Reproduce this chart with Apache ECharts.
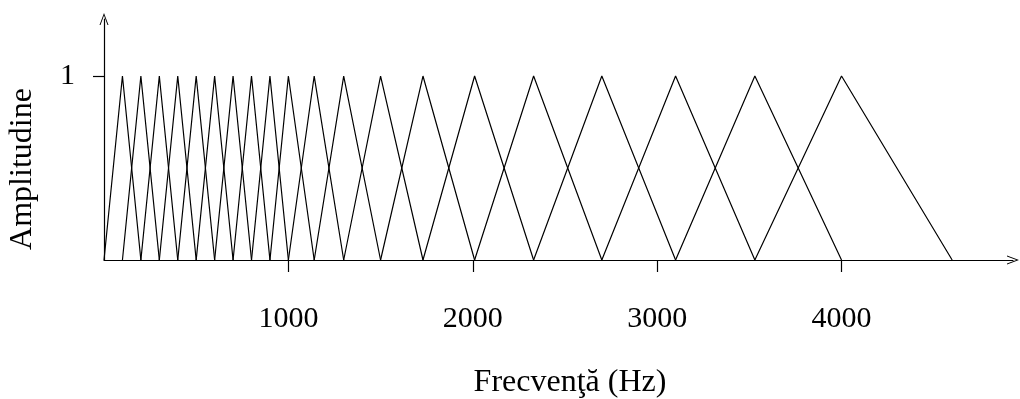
<!DOCTYPE html>
<html>
<head>
<meta charset="utf-8">
<script src="https://cdn.jsdelivr.net/npm/echarts@6/dist/echarts.min.js"></script>
<style>
html,body{margin:0;padding:0;background:#fff;}
#chart{width:1020px;height:399px;}
</style>
</head>
<body>
<div id="chart"></div>
<script>
// Filter-bank edge frequencies (Hz): triangle k spans edges[k] .. edges[k+2], peak at edges[k+1]
const edges = [0, 100, 200, 300, 400, 500, 600, 700, 800, 900, 1000,
               1140, 1300, 1500, 1730, 2010, 2330, 2700, 3100, 3530, 4000, 4600];
const peakValue = 1;
const xTicks = [1000, 2000, 3000, 4000];
const yTicks = [1];
const xTitle = 'Frecvenţă (Hz)';
const yTitle = 'Amplitudine';

const FONT = 'Liberation Serif';
const LW = 1.2;
const arrowPath = 'path://M0,12 L4.5,0 L9,12 L8,12 L4.5,2.6 L1,12 Z';

const series = [];
for (let k = 0; k + 2 < edges.length; k++) {
  series.push({
    type: 'line',
    data: [[edges[k], 0], [edges[k + 1], peakValue], [edges[k + 2], 0]],
    showSymbol: false,
    symbol: 'none',
    lineStyle: { color: '#000', width: LW },
    silent: true,
    z: 2
  });
}

const chart = echarts.init(document.getElementById('chart'), null, { renderer: 'canvas' });
chart.setOption({
  animation: false,
  backgroundColor: '#fff',
  grid: { left: 104, right: 7, top: 19, height: 241, containLabel: false, outerBoundsMode: 'none' },
  xAxis: {
    type: 'value',
    min: 0,
    max: 4930,
    interval: 1000,
    name: xTitle,
    nameLocation: 'middle',
    nameGap: 107,
    nameMoveOverlap: false,
    nameTextStyle: { fontFamily: FONT, fontSize: 32, color: '#000', padding: [0, 0, 0, 23], lineHeight: 32 },
    axisLine: {
      show: true, onZero: false,
      lineStyle: { color: '#000', width: LW },
      symbol: ['none', arrowPath], symbolSize: [9, 12]
    },
    axisTick: { show: true, length: 12, inside: false, customValues: xTicks, lineStyle: { color: '#000', width: LW } },
    axisLabel: { customValues: xTicks, margin: 44, fontFamily: FONT, fontSize: 30, color: '#000', lineHeight: 30,
                 formatter: v => String(v) },
    splitLine: { show: false }
  },
  yAxis: {
    type: 'value',
    min: 0,
    max: 1.31,
    interval: 1,
    name: yTitle,
    nameLocation: 'middle',
    nameRotate: 90,
    nameGap: 65,
    nameMoveOverlap: false,
    nameTextStyle: { fontFamily: FONT, fontSize: 32, color: '#000', padding: [0, 59, 0, 0], lineHeight: 32 },
    axisLine: {
      show: true, onZero: false,
      lineStyle: { color: '#000', width: LW },
      symbol: ['none', arrowPath], symbolSize: [9, 12]
    },
    axisTick: { show: true, length: 11, inside: false, customValues: yTicks, lineStyle: { color: '#000', width: LW } },
    axisLabel: { customValues: yTicks, margin: 29, fontFamily: FONT, fontSize: 30, color: '#000',
                 formatter: v => String(v) },
    splitLine: { show: false }
  },
  series: series
});
</script>
</body>
</html>
